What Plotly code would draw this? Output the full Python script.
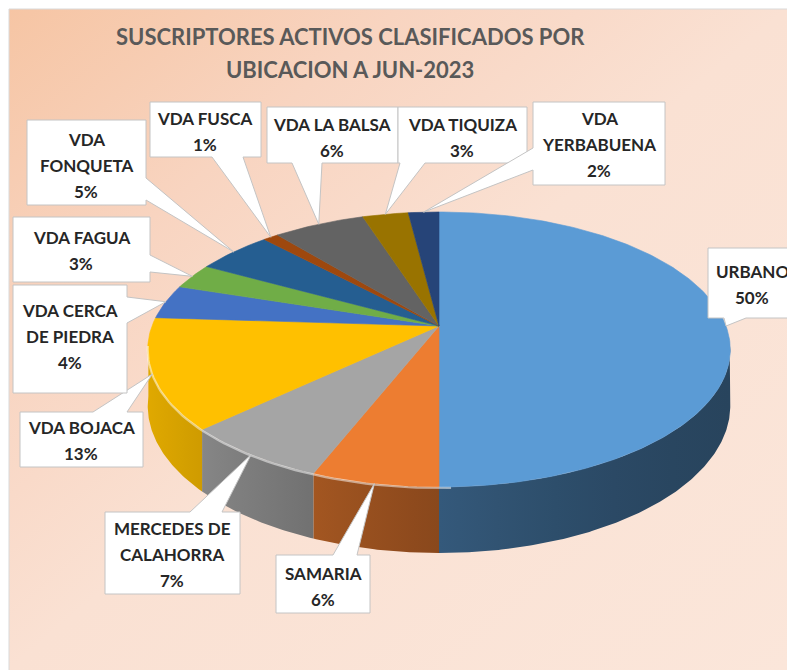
import base64
import numpy as np
import plotly.graph_objects as go

# ---- data -------------------------------------------------------------
categories = ["URBANO", "SAMARIA", "MERCEDES DE CALAHORRA", "VDA BOJACA",
              "VDA CERCA DE PIEDRA", "VDA FAGUA", "VDA FONQUETA", "VDA FUSCA",
              "VDA LA BALSA", "VDA TIQUIZA", "VDA YERBABUENA"]
shares = [50, 6, 7, 13, 4, 3, 5, 1, 6, 3, 2]
label_lines = [["URBANO"], ["SAMARIA"], ["MERCEDES DE", "CALAHORRA"], ["VDA BOJACA"],
               ["VDA CERCA", "DE PIEDRA"], ["VDA FAGUA"], ["VDA", "FONQUETA"],
               ["VDA FUSCA"], ["VDA LA BALSA"], ["VDA TIQUIZA"], ["VDA", "YERBABUENA"]]
slice_colors = ["#5B9BD5", "#ED7D31", "#A5A5A5", "#FFC000", "#4472C4", "#70AD47",
                "#255E91", "#9E480E", "#636363", "#997300", "#264478"]
title_lines = ["SUSCRIPTORES ACTIVOS CLASIFICADOS POR", "UBICACION A JUN-2023"]

# ---- layout constants (pixels) -----------------------------------------
W, H = 787, 670
CX, APEX_Y, R = 439.0, 326.0, 287.0      # pie centre and radius
TILT_B, PERSP, DEPTH = -77.8, 0.1709, 54.7  # tilt, perspective, thickness

# callout boxes: (x0, y0, x1, y1), text centre, pointer side, pointer base span
callouts = [
    ((708, 248, 800, 318), (752, 284), "bottom", (724, 746)),
    ((276, 555, 370, 613), (323, 586), "top", (333, 357)),
    ((105, 512, 240, 594), (172, 554), "top", (190, 222)),
    ((20, 412, 143, 467), (81, 440), "top", (93, 127)),
    ((13, 285, 127, 393), (70, 336), "right", (297, 323)),
    ((13, 217, 150, 282), (81, 250), "right", (255, 272)),
    ((27, 120, 146, 205), (86, 165), "right", (178, 200)),
    ((150, 102, 261, 157), (205, 131), "bottom", (212, 243)),
    ((267, 107, 398, 163), (332, 137), "bottom", (292, 322)),
    ((398, 107, 527, 163), (462, 137), "bottom", (400, 425)),
    ((533, 102, 665, 185), (599, 144), "left", (148, 170)),
]


def top_pt(theta):
    """Point on the upper rim for an angle measured clockwise from 12 o'clock."""
    t = np.radians(theta)
    u, v = np.sin(t), np.cos(t)
    s = 1 + PERSP * v
    return CX + R * u / s, (APEX_Y + TILT_B * v) / s


def bottom_pt(theta):
    t = np.radians(theta)
    s = 1 + PERSP * np.cos(t)
    x, y = top_pt(theta)
    return x, y + DEPTH / s


def hex_rgb(h):
    h = h.lstrip("#")
    return [int(h[i:i + 2], 16) for i in (0, 2, 4)]


def shade(h, f):
    r, g, b = hex_rgb(h)
    return "rgb(%d,%d,%d)" % (min(255, r * f), min(255, g * f), min(255, b * f))


def wall_factor(x):
    s = (x - CX) / 291.0
    return 0.58 - 0.22 * s + 0.08 * s * s


total = float(sum(shares))
bounds = np.concatenate([[0], np.cumsum(shares)]) / total * 360.0

fig = go.Figure()

# ---- side walls (front half), with a left-to-right shading gradient -----
VIS0, VIS1 = 96.0, 264.0
for i, col in enumerate(slice_colors):
    a0, a1 = max(bounds[i], VIS0), min(bounds[i + 1], VIS1)
    if a1 <= a0:
        continue
    th = np.linspace(a0, a1, max(4, int((a1 - a0) * 2) + 2))
    tx, ty = top_pt(th)
    bx, by = bottom_pt(th[::-1])
    xs = np.concatenate([tx, bx, tx[:1]])
    ys = np.concatenate([ty, by, ty[:1]])
    xmin, xmax = xs.min(), xs.max()
    stops = np.linspace(0, 1, 6)
    scale = [[float(p), shade(col, wall_factor(xmin + p * (xmax - xmin)))] for p in stops]
    fig.add_trace(go.Scatter(x=xs, y=ys, mode="lines", fill="toself",
                             fillgradient=dict(type="horizontal", colorscale=scale),
                             line=dict(width=0), hoverinfo="skip", showlegend=False))

# ---- top faces ----------------------------------------------------------
for i, col in enumerate(slice_colors):
    th = np.linspace(bounds[i], bounds[i + 1], max(3, int(bounds[i + 1] - bounds[i]) + 2))
    ax, ay = top_pt(th)
    xs = np.concatenate([[CX], ax, [CX]])
    ys = np.concatenate([[APEX_Y], ay, [APEX_Y]])
    fig.add_trace(go.Scatter(x=xs, y=ys, mode="lines", fill="toself",
                             fillcolor=col, line=dict(color=col, width=0.6),
                             hoverinfo="skip", showlegend=False,
                             name=categories[i]))

# soft rim highlight along the front-left edge
th = np.linspace(178, 262, 60)
hx, hy = top_pt(th)
fig.add_trace(go.Scatter(x=hx, y=hy + 1.0, mode="lines",
                         line=dict(color="rgba(255,255,255,0.5)", width=2.2),
                         hoverinfo="skip", showlegend=False))

# ---- callouts -----------------------------------------------------------
ann = []
for i, ((x0, y0, x1, y1), (tcx, tcy), side, (b0, b1)) in enumerate(callouts):
    mid = (bounds[i] + bounds[i + 1]) / 2.0
    px, py = top_pt(mid)
    pts = [(x0, y0)]
    if side == "top":
        pts += [(b0, y0), (px, py), (b1, y0)]
    pts += [(x1, y0)]
    if side == "right":
        pts += [(x1, b0), (px, py), (x1, b1)]
    pts += [(x1, y1)]
    if side == "bottom":
        pts += [(b1, y1), (px, py), (b0, y1)]
    pts += [(x0, y1)]
    if side == "left":
        pts += [(x0, b1), (px, py), (x0, b0)]
    pts += [(x0, y0)]
    fig.add_trace(go.Scatter(x=[p[0] for p in pts], y=[p[1] for p in pts],
                             mode="lines", fill="toself", fillcolor="white",
                             line=dict(color="#C4C4C4", width=1),
                             hoverinfo="skip", showlegend=False))
    lines = label_lines[i] + ["%d%%" % shares[i]]
    n = len(lines)
    for j, t in enumerate(lines):
        ann.append(dict(x=tcx, y=tcy - (n - 1) * 13 + j * 26, xref="x", yref="y",
                        text="<b>%s</b>" % t, showarrow=False,
                        xanchor="center", yanchor="middle",
                        font=dict(family="Lato", size=17, color="#262626")))

for j, (t, y) in enumerate(zip(title_lines, [36, 69])):
    ann.append(dict(x=350, y=y, xref="x", yref="y", text="<b>%s</b>" % t,
                    showarrow=False, xanchor="center", yanchor="middle",
                    font=dict(family="Lato", size=22, color="#595959")))

# ---- chart-area background gradient -------------------------------------
svg = ('<svg xmlns="http://www.w3.org/2000/svg" width="778" height="661" '
       'preserveAspectRatio="none">'
       '<defs><linearGradient id="g" x1="0" y1="0" x2="1" y2="1">'
       '<stop offset="0" stop-color="#F6C5A4"/>'
       '<stop offset="0.25" stop-color="#F8D4C0"/>'
       '<stop offset="0.37" stop-color="#F9DAC9"/>'
       '<stop offset="0.5" stop-color="#FAE1D3"/>'
       '<stop offset="1" stop-color="#FBE6DA"/>'
       '</linearGradient></defs>'
       '<rect width="778" height="661" fill="url(#g)"/></svg>')
src = "data:image/svg+xml;base64," + base64.b64encode(svg.encode()).decode()

fig.update_layout(
    width=W, height=H, autosize=False,
    margin=dict(l=0, r=0, t=0, b=0, pad=0),
    paper_bgcolor="white", plot_bgcolor="rgba(0,0,0,0)",
    xaxis=dict(range=[0, W], visible=False, fixedrange=True),
    yaxis=dict(range=[H, 0], visible=False, fixedrange=True),
    annotations=ann,
    images=[dict(source=src, xref="paper", yref="paper", x=9 / W, y=1 - 9 / H,
                 sizex=778 / W, sizey=661 / H, xanchor="left", yanchor="top",
                 sizing="stretch", layer="below")],
    shapes=[dict(type="rect", xref="x", yref="y", x0=9, y0=9, x1=W + 5, y1=H + 5,
                 line=dict(color="#D9D9D9", width=1), fillcolor="rgba(0,0,0,0)",
                 layer="above")],
)

fig.write_html("out.html")
